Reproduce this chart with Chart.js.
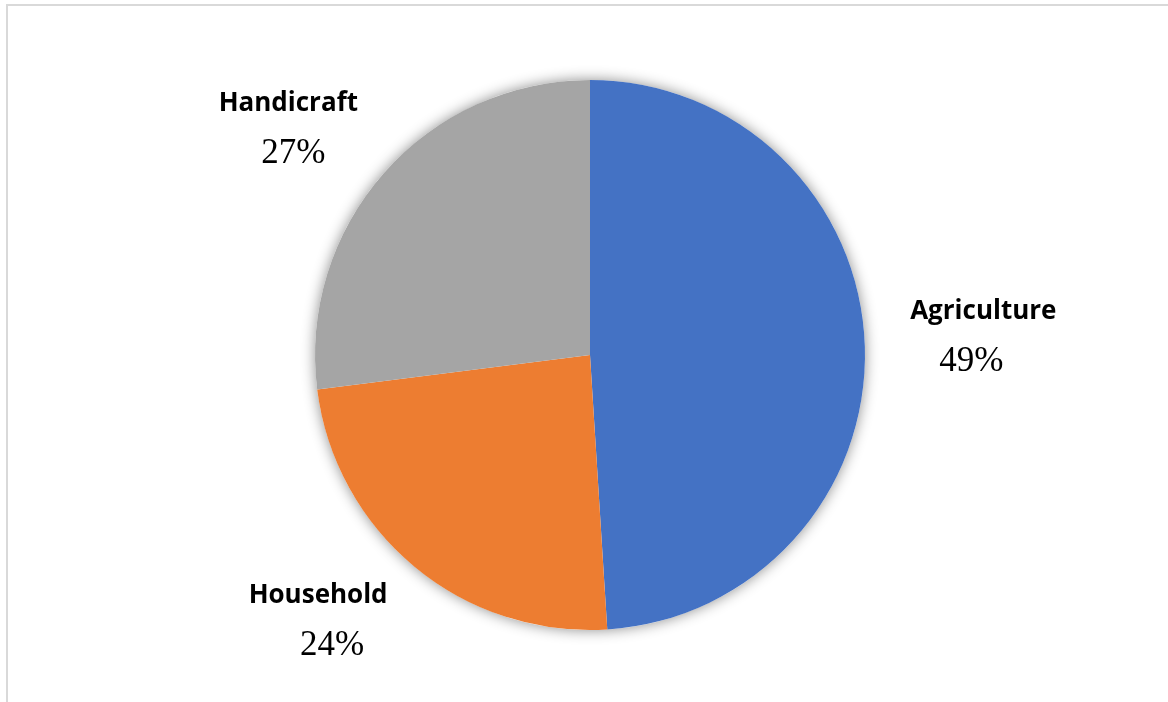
<!DOCTYPE html>
<html>
<head>
<meta charset="utf-8">
<script src="https://cdn.jsdelivr.net/npm/chart.js@4/dist/chart.umd.min.js"></script>
<style>
  html, body { margin: 0; padding: 0; background: #fff; }
  #wrap { position: relative; width: 1168px; height: 702px; }
  #frame {
    position: absolute; left: 6px; top: 4px; right: 0; bottom: 0;
    border-top: 2px solid #d9d9d9; border-left: 2px solid #d9d9d9;
  }
  #pie { position: absolute; left: 0; top: 0; }
</style>
</head>
<body>
<div id="wrap">
  <div id="frame"></div>
  <canvas id="pie" width="1168" height="702"></canvas>
</div>
<script>
// Share of workers by sector
const sectors = ["Agriculture", "Household", "Handicraft"];
const shares = [49, 24, 27];
const sliceColors = ["#4472C4", "#ED7D31", "#A5A5A5"];

// Soft glow behind the whole pie
const pieShadow = {
  id: 'pieShadow',
  beforeDatasetsDraw(chart) {
    const arc = chart.getDatasetMeta(0).data[0];
    if (!arc) return;
    const { x, y, outerRadius } = arc.getProps(['x', 'y', 'outerRadius'], true);
    const ctx = chart.ctx;
    ctx.save();
    ctx.shadowColor = 'rgba(0, 0, 0, 0.45)';
    ctx.shadowBlur = 14;
    ctx.fillStyle = '#ffffff';
    ctx.beginPath();
    ctx.arc(x, y, outerRadius, 0, Math.PI * 2);
    ctx.fill();
    ctx.restore();
  }
};

// Category name + percentage placed outside each slice
const outsideLabels = {
  id: 'outsideLabels',
  afterDatasetsDraw(chart, args, opts) {
    const ctx = chart.ctx;
    const meta = chart.getDatasetMeta(0);
    meta.data.forEach((arc, i) => {
      const { x, y, startAngle, endAngle, outerRadius } =
        arc.getProps(['x', 'y', 'startAngle', 'endAngle', 'outerRadius'], true);
      const mid = (startAngle + endAngle) / 2;
      const nudge = opts.nudges[i];
      const bx = x + Math.cos(mid) * outerRadius * opts.distance + nudge[0];
      const by = y + Math.sin(mid) * outerRadius * opts.distance + nudge[1];

      ctx.save();
      ctx.fillStyle = '#000';
      ctx.textAlign = 'center';
      ctx.textBaseline = 'alphabetic';
      ctx.font = 'bold 26px "Open Sans"';
      ctx.fillText(chart.data.labels[i], bx, by - 16.5);
      ctx.font = '35px "Liberation Serif"';
      ctx.fillText(chart.data.datasets[0].data[i] + '%', bx + nudge[2], by + 35.5);
      ctx.restore();
    });
  }
};

new Chart(document.getElementById('pie').getContext('2d'), {
  type: 'pie',
  data: {
    labels: sectors,
    datasets: [{
      data: shares,
      backgroundColor: sliceColors,
      borderWidth: 0
    }]
  },
  options: {
    responsive: false,
    animation: false,
    layout: {
      padding: { left: 12, right: 0, top: 80, bottom: 72 }
    },
    plugins: {
      legend: { display: false },
      tooltip: { enabled: false },
      outsideLabels: {
        distance: 1.38,
        nudges: [[14, -8, -12], [-30, -28, 14], [-17, 23, 5]]
      }
    }
  },
  plugins: [pieShadow, outsideLabels]
});
</script>
</body>
</html>
